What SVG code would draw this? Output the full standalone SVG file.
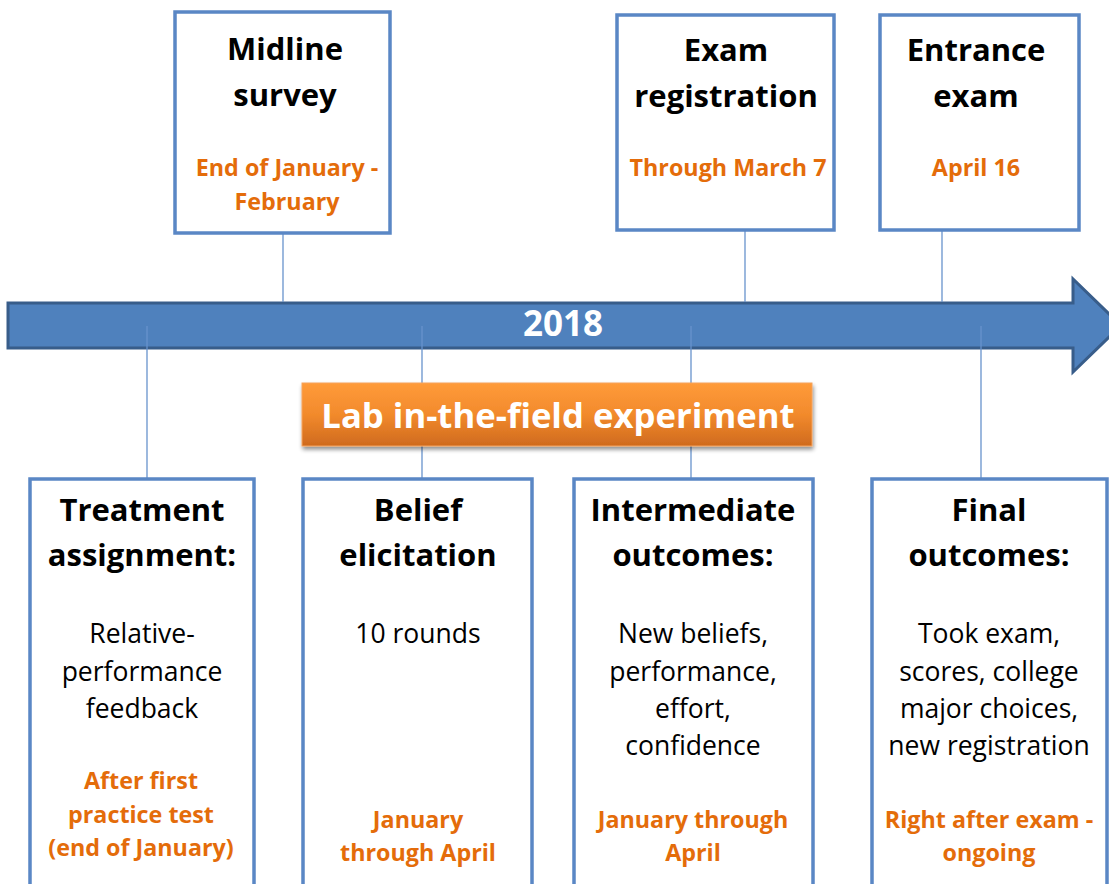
<svg xmlns="http://www.w3.org/2000/svg" width="1109" height="884" viewBox="0 0 1109 884">
  <defs>
    <linearGradient id="labFill" x1="0" y1="0" x2="0" y2="1">
      <stop offset="0" stop-color="#FF9B3A"/>
      <stop offset="0.5" stop-color="#F28A2C"/>
      <stop offset="1" stop-color="#CF6A1E"/>
    </linearGradient>
    <filter id="softShadow" x="-5%" y="-20%" width="110%" height="150%">
      <feGaussianBlur in="SourceAlpha" stdDeviation="2"/>
      <feOffset dx="1" dy="3" result="b"/>
      <feComponentTransfer><feFuncA type="linear" slope="0.45"/></feComponentTransfer>
      <feMerge><feMergeNode/><feMergeNode in="SourceGraphic"/></feMerge>
    </filter>
    <style>
      .box { fill: #FFFFFF; stroke: #5A87C5; stroke-width: 3.5; }
      .link { stroke: #6893CC; stroke-width: 1.3; fill: none; }
      text { font-family: "Open Sans", "Noto Sans", sans-serif; text-anchor: middle; }
      .title { font-size: 31px; font-weight: 700; fill: #000000; }
      .body { font-size: 26.5px; font-weight: 400; fill: #000000; }
      .date { font-size: 23.3px; font-weight: 700; fill: #E46C0A; }
      .year { font-size: 35px; font-weight: 700; fill: #FFFFFF; }
      .lab { font-size: 34.7px; font-weight: 700; fill: #FFFFFF; }
    </style>
  </defs>

  <!-- timeline arrow -->
  <g id="timeline">
    <path d="M8,303 H1073 V279 L1121,325.5 L1073,372 V348 H8 Z" fill="#4F81BD" stroke="#385D8A" stroke-width="3" stroke-linejoin="miter"/>
  </g>

  <!-- connectors between the timeline and the boxes -->
  <g id="connectors">
    <line class="link" x1="283" y1="234" x2="283" y2="302"/>
    <line class="link" x1="745" y1="231" x2="745" y2="302"/>
    <line class="link" x1="942" y1="231" x2="942" y2="302"/>
    <line class="link" x1="147" y1="326" x2="147" y2="478"/>
    <line class="link" x1="422" y1="326" x2="422" y2="478"/>
    <line class="link" x1="691" y1="326" x2="691" y2="478"/>
    <line class="link" x1="981" y1="326" x2="981" y2="478"/>
  </g>

  <g id="year-label">
    <text class="year" x="563" y="336">2018</text>
  </g>

  <!-- experiment banner -->
  <g id="lab-experiment">
    <rect x="302" y="383" width="510" height="63" fill="url(#labFill)" stroke="#F5A35C" stroke-width="1" filter="url(#softShadow)"/>
    <text class="lab" x="558" y="428">Lab in-the-field experiment</text>
  </g>

  <!-- events above the timeline -->
  <g id="midline-survey">
    <rect class="box" x="175" y="12" width="215" height="221"/>
    <text class="title" x="285" y="60">Midline</text>
    <text class="title" x="285" y="106">survey</text>
    <text class="date" x="287" y="176">End of January -</text>
    <text class="date" x="287" y="210">February</text>
  </g>

  <g id="exam-registration">
    <rect class="box" x="617" y="15" width="217" height="215"/>
    <text class="title" x="726" y="61">Exam</text>
    <text class="title" x="726" y="107">registration</text>
    <text class="date" x="728" y="176">Through March 7</text>
  </g>

  <g id="entrance-exam">
    <rect class="box" x="880" y="15" width="199" height="215"/>
    <text class="title" x="976" y="61">Entrance</text>
    <text class="title" x="976" y="107">exam</text>
    <text class="date" x="976" y="176">April 16</text>
  </g>

  <!-- stages below the timeline -->
  <g id="treatment-assignment">
    <rect class="box" x="30" y="479" width="224" height="430"/>
    <text class="title" x="142" y="521">Treatment</text>
    <text class="title" x="142" y="566">assignment:</text>
    <text class="body" x="142" y="643">Relative-</text>
    <text class="body" x="142" y="681">performance</text>
    <text class="body" x="142" y="718">feedback</text>
    <text class="date" x="141" y="789">After first</text>
    <text class="date" x="141" y="823">practice test</text>
    <text class="date" x="141" y="856">(end of January)</text>
  </g>

  <g id="belief-elicitation">
    <rect class="box" x="303" y="479" width="229" height="430"/>
    <text class="title" x="418" y="521">Belief</text>
    <text class="title" x="418" y="566">elicitation</text>
    <text class="body" x="418" y="643">10 rounds</text>
    <text class="date" x="418" y="828">January</text>
    <text class="date" x="418" y="861">through April</text>
  </g>

  <g id="intermediate-outcomes">
    <rect class="box" x="574" y="479" width="239" height="430"/>
    <text class="title" x="693" y="521">Intermediate</text>
    <text class="title" x="693" y="566">outcomes:</text>
    <text class="body" x="693" y="643">New beliefs,</text>
    <text class="body" x="693" y="681">performance,</text>
    <text class="body" x="693" y="718">effort,</text>
    <text class="body" x="693" y="755">confidence</text>
    <text class="date" x="693" y="828">January through</text>
    <text class="date" x="693" y="861">April</text>
  </g>

  <g id="final-outcomes">
    <rect class="box" x="872" y="479" width="235" height="430"/>
    <text class="title" x="989" y="521">Final</text>
    <text class="title" x="989" y="566">outcomes:</text>
    <text class="body" x="989" y="643">Took exam,</text>
    <text class="body" x="989" y="681">scores, college</text>
    <text class="body" x="989" y="718">major choices,</text>
    <text class="body" x="989" y="755">new registration</text>
    <text class="date" x="989" y="828">Right after exam -</text>
    <text class="date" x="989" y="861">ongoing</text>
  </g>
</svg>
